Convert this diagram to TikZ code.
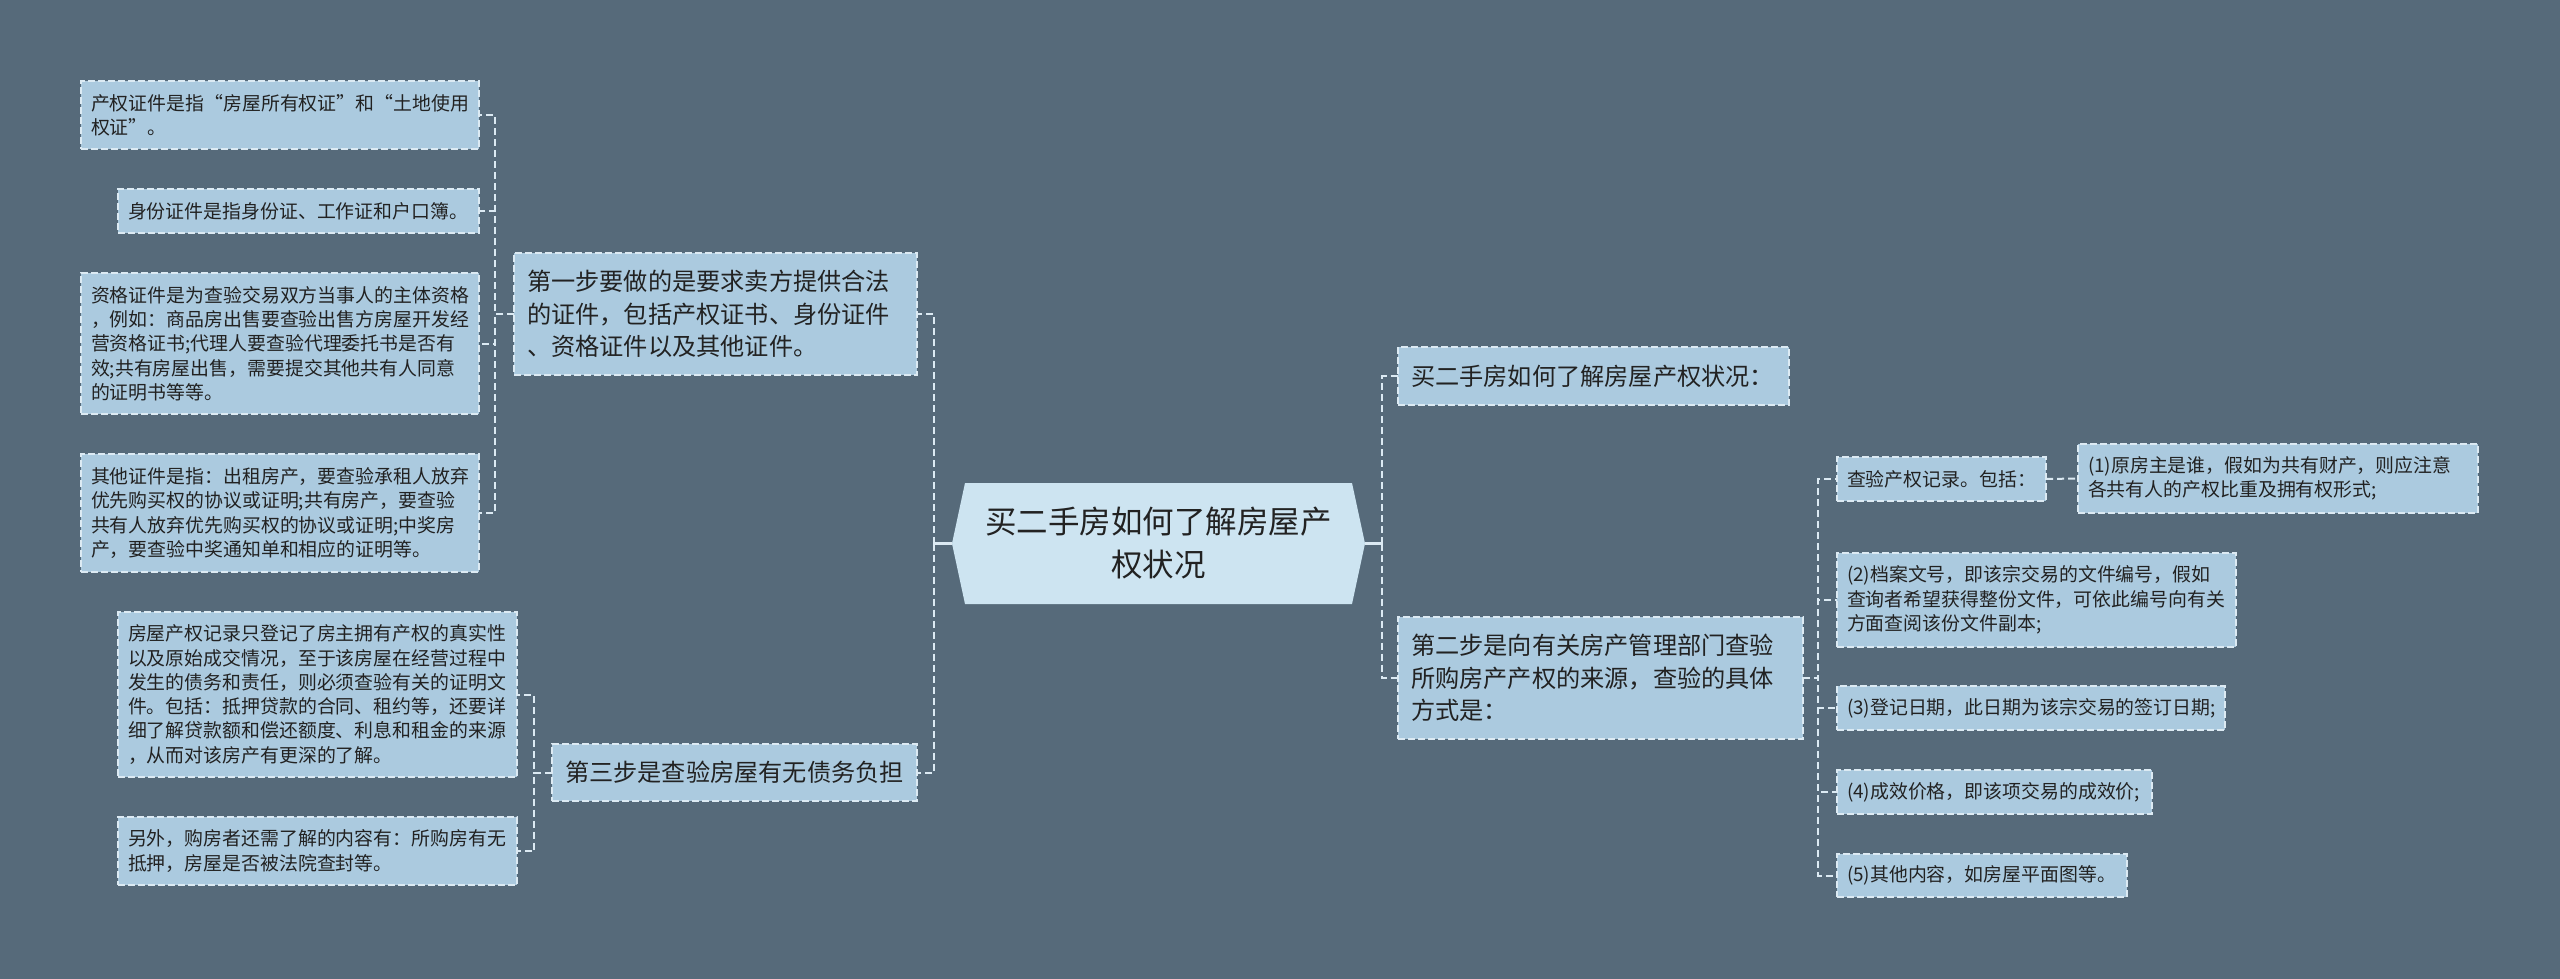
\documentclass[tikz,border=0pt]{standalone}
\usepackage{fontspec}
\setmainfont{Noto Sans CJK SC}
\usetikzlibrary{calc}
\definecolor{bg}{HTML}{566A7A}
\definecolor{leaffill}{HTML}{ABCADF}
\definecolor{rootfill}{HTML}{CDE4F1}
\definecolor{edgecol}{HTML}{DCEAF3}
\definecolor{ink}{HTML}{222222}
\tikzset{
  box/.style={draw=edgecol, fill=leaffill, line width=1.5pt, dash pattern=on 7pt off 3pt,
    inner xsep=10pt, inner ysep=0pt, outer sep=0pt, align=left, anchor=north west, text=ink},
  small/.style={box, font=\fontsize{18.9pt}{24.3pt}\selectfont},
  mid/.style={box, inner xsep=13pt, font=\fontsize{24.2pt}{32.5pt}\selectfont},
  conn/.style={draw=edgecol, line width=2pt, dash pattern=on 7pt off 4pt},
  trunk/.style={draw=edgecol, line width=2.5pt},
}
\begin{document}
\begin{tikzpicture}[x=1pt,y=-1pt]
\fill[bg] (0,0) rectangle (2560,979);
\useasboundingbox (0,0) rectangle (2560,979);
% root
\fill[rootfill] (965,483) -- (1352,483) -- (1365,543.5) -- (1352,604) -- (965,604) -- (952,543.5) -- cycle;
\node[inner sep=0pt, outer sep=0pt, minimum width=387pt, minimum height=121pt, text width=370pt, align=center,
  text=ink, font=\fontsize{31.5pt}{43pt}\selectfont] (root) at (1158.5,543.5) {买二手房如何了解房屋产\\权状况};
\coordinate (rootL) at ($(root.west)+(-13pt,0pt)$);
\coordinate (rootR) at ($(root.east)+(13pt,0pt)$);

% left side, first step
\node[mid, minimum width=403pt, text width=377pt, minimum height=122pt] (L1) at (514,253)
  {第一步要做的是要求卖方提供合法\\的证件，包括产权证书、身份证件\\、资格证件以及其他证件。};
\node[small, minimum width=398pt, text width=378pt, minimum height=68pt] (a1) at (81,81)
  {产权证件是指“房屋所有权证”和“土地使用\\权证”。};
\node[small, minimum width=361pt, text width=341pt, minimum height=44pt] (a2) at (118,189)
  {身份证件是指身份证、工作证和户口簿。};
\node[small, minimum width=398pt, text width=378pt, minimum height=141pt] (a3) at (81,273)
  {资格证件是为查验交易双方当事人的主体资格\\，例如：商品房出售要查验出售方房屋开发经\\营资格证书;代理人要查验代理委托书是否有\\效;共有房屋出售，需要提交其他共有人同意\\的证明书等等。};
\node[small, minimum width=398pt, text width=378pt, minimum height=118pt] (a4) at (81,454)
  {其他证件是指：出租房产，要查验承租人放弃\\优先购买权的协议或证明;共有房产，要查验\\共有人放弃优先购买权的协议或证明;中奖房\\产，要查验中奖通知单和相应的证明等。};

% left side, third step
\node[mid, minimum width=365pt, text width=339pt, minimum height=57pt] (L3) at (552,744)
  {第三步是查验房屋有无债务负担};
\node[small, minimum width=399pt, text width=379pt, minimum height=165pt] (b1) at (118,612)
  {房屋产权记录只登记了房主拥有产权的真实性\\以及原始成交情况，至于该房屋在经营过程中\\发生的债务和责任，则必须查验有关的证明文\\件。包括：抵押贷款的合同、租约等，还要详\\细了解贷款额和偿还额度、利息和租金的来源\\，从而对该房产有更深的了解。};
\node[small, minimum width=399pt, text width=379pt, minimum height=68pt] (b2) at (118,817)
  {另外，购房者还需了解的内容有：所购房有无\\抵押，房屋是否被法院查封等。};

% right side
\node[mid, minimum width=391pt, text width=365pt, minimum height=58pt] (R1) at (1398,347)
  {买二手房如何了解房屋产权状况：};
\node[mid, minimum width=405pt, text width=379pt, minimum height=122pt] (R2) at (1398,617)
  {第二步是向有关房产管理部门查验\\所购房产产权的来源，查验的具体\\方式是：};
\node[small, minimum width=209pt, text width=189pt, minimum height=44pt] (C1) at (1837,457)
  {查验产权记录。包括：};
\node[small, minimum width=400pt, text width=380pt, minimum height=69pt] (D1) at (2078,444)
  {(1)原房主是谁，假如为共有财产，则应注意\\各共有人的产权比重及拥有权形式;};
\node[small, minimum width=399pt, text width=379pt, minimum height=94pt] (C2) at (1837,553)
  {(2)档案文号，即该宗交易的文件编号，假如\\查询者希望获得整份文件，可依此编号向有关\\方面查阅该份文件副本;};
\node[small, minimum width=388pt, text width=368pt, minimum height=44pt] (C3) at (1837,686)
  {(3)登记日期，此日期为该宗交易的签订日期;};
\node[small, minimum width=315pt, text width=295pt, minimum height=44pt] (C4) at (1837,770)
  {(4)成效价格，即该项交易的成效价;};
\node[small, minimum width=290pt, text width=270pt, minimum height=43pt] (C5) at (1837,854)
  {(5)其他内容，如房屋平面图等。};

% connectors
\coordinate (jl) at ($(rootL)+(-18pt,0pt)$);
\coordinate (jr) at ($(rootR)+(17pt,0pt)$);
\draw[trunk] (rootL) -- (jl);
\draw[trunk] (rootR) -- (jr);
\draw[conn] (jl) |- (L1.east);
\draw[conn] (jl) |- (L3.east);
\draw[conn] (jr) |- (R1.west);
\draw[conn] (jr) |- (R2.west);

\coordinate (j1) at ($(L1.west)+(-19pt,0pt)$);
\foreach \n in {a1,a2,a3,a4} \draw[conn] (L1.west) -- (j1) |- (\n.east);
\coordinate (j3) at ($(L3.west)+(-18pt,0pt)$);
\foreach \n in {b1,b2} \draw[conn] (L3.west) -- (j3) |- (\n.east);
\coordinate (j2) at ($(R2.east)+(15pt,0pt)$);
\foreach \n in {C1,C2,C3,C4,C5} \draw[conn] (R2.east) -- (j2) |- (\n.west);
\draw[conn] (C1.east) -- (D1.west);
\end{tikzpicture}
\end{document}
